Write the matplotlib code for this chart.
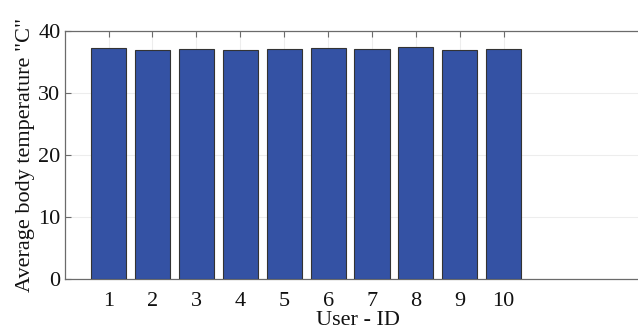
import matplotlib
matplotlib.use("Agg")
import matplotlib.pyplot as plt

users = [1, 2, 3, 4, 5, 6, 7, 8, 9, 10]
avg_temp = [37.2, 36.95, 37.05, 36.85, 37.05, 37.25, 37.05, 37.45, 36.9, 37.0]
yticks = [0, 10, 20, 30, 40]

plt.rcParams['font.family'] = ['Liberation Serif', 'DejaVu Serif']

fig = plt.figure(figsize=(6.38, 3.34), dpi=100)
ax = fig.add_axes([0.1014, 0.1638, 0.92, 0.7443])

ax.bar(users, avg_temp, width=0.8, color='#3452a4', edgecolor='#333333',
       linewidth=0.8, zorder=3)

ax.set_xlim(0, 13.37)
ax.set_ylim(0, 40)
ax.set_xticks(users)
ax.set_yticks(yticks)
ax.grid(True, color='#ededed', linewidth=0.8, zorder=0)
ax.set_axisbelow(True)

for s in ax.spines.values():
    s.set_color('#6b6b6b')
    s.set_linewidth(0.9)

ax.tick_params(axis='both', direction='in', top=True, right=True,
               colors='#6b6b6b', labelcolor='#111111', labelsize=16,
               length=4)
ax.tick_params(axis='x', pad=9)
ax.tick_params(axis='y', pad=3)

ax.set_xlabel('User - ID', fontsize=16, color='#111111', labelpad=0)
ax.set_ylabel('Average body temperature "C"', fontsize=16, color='#111111',
              labelpad=2)

fig.savefig('out.png', dpi=100)
